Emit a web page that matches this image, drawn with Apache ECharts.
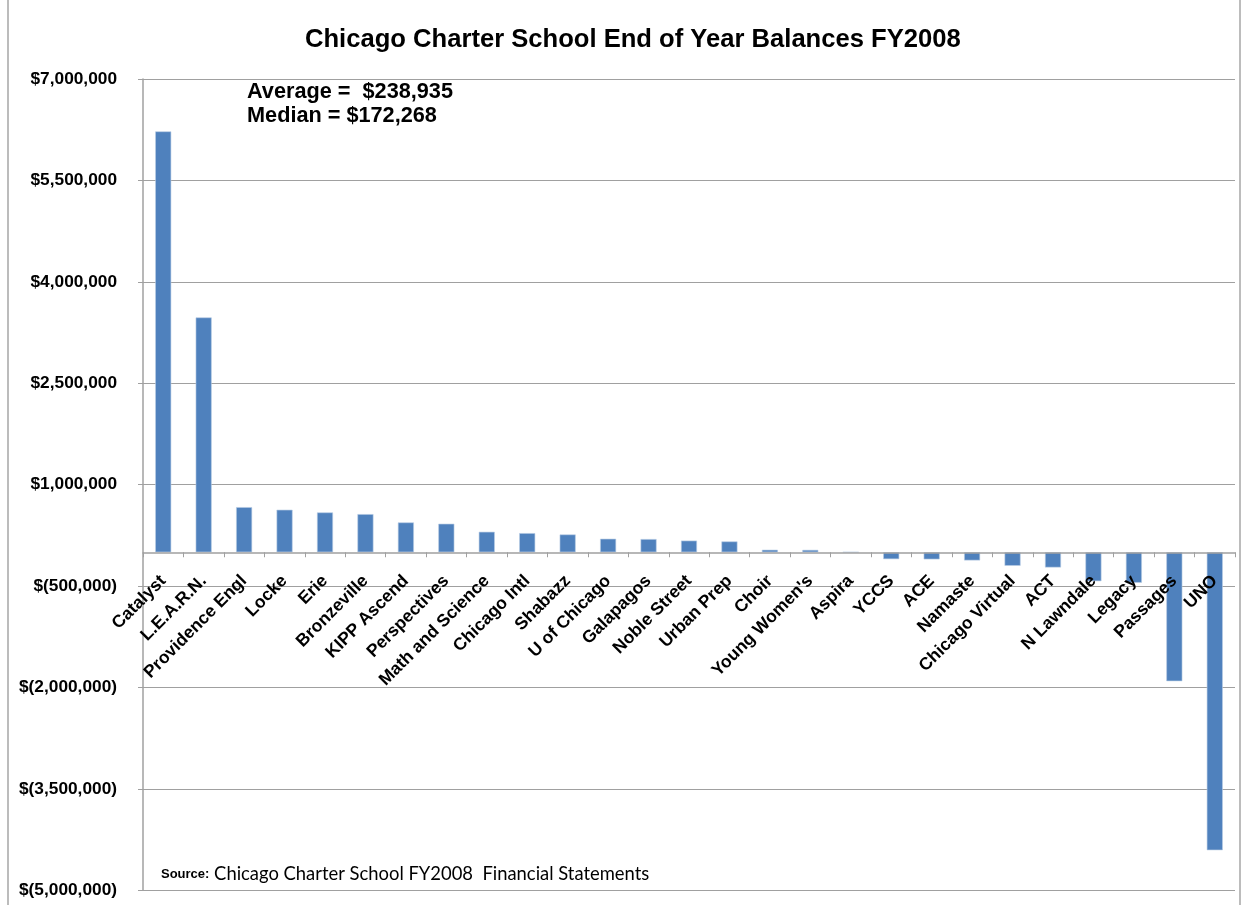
<!DOCTYPE html>
<html>
<head>
<meta charset="utf-8">
<script src="https://cdn.jsdelivr.net/npm/echarts@6/dist/echarts.min.js"></script>
<style>
html,body{margin:0;padding:0;background:#fff;}
#chart{width:1248px;height:905px;}
</style>
</head>
<body>
<div id="chart"></div>
<script>
const titleText = 'Chicago Charter School End of Year Balances FY2008';
const categories = ['Catalyst','L.E.A.R.N.','Providence Engl','Locke','Erie','Bronzeville','KIPP Ascend','Perspectives','Math and Science','Chicago Intl','Shabazz','U of Chicago','Galapagos','Noble Street','Urban Prep','Choir',"Young Women's",'Aspira','YCCS','ACE','Namaste','Chicago Virtual','ACT','N Lawndale','Legacy','Passages','UNO'];
const balances = [6225000, 3473000, 667000, 629000, 589000, 564000, 441000, 422000, 303000, 283000, 263000, 200000, 195000, 172268, 160000, 37000, 35000, 2000, -102000, -105000, -121000, -200000, -225000, -428000, -451000, -1907000, -4407000];
const yMin = -5000000, yMax = 7000000, yStep = 1500000;
const averageLabel = 'Average =  $238,935';
const medianLabel = 'Median = $172,268';
const sourceBold = 'Source:';
const sourceRest = ' Chicago Charter School FY2008  Financial Statements';

function commas(n){ return String(Math.round(n)).replace(/\B(?=(\d{3})+(?!\d))/g, ','); }
function money(v){ return v < 0 ? '$(' + commas(-v) + ')' : '$' + commas(v); }

const W = 1248, H = 905;
const gridTop = 79, gridBottom = 14.7;
const plotH = H - gridTop - gridBottom;
// move the category axis up from the bottom edge to the value 0
const zeroOffset = -plotH * (0 - yMin) / (yMax - yMin);

const chart = echarts.init(document.getElementById('chart'), null, {renderer:'canvas'});
const grey = '#a0a0a0';
chart.setOption({
  animation:false,
  backgroundColor:'#ffffff',
  title:{
    text:titleText, left:300, top:22,
    textStyle:{fontFamily:'Liberation Sans, Arial, sans-serif', fontWeight:'bold', fontSize:25.6, color:'#000'}
  },
  grid:{left:143, right:13, top:gridTop, bottom:gridBottom, containLabel:false, outerBoundsMode:'none'},
  xAxis:{
    type:'category', data:categories, boundaryGap:true, position:'bottom', offset:zeroOffset, z:10,
    axisLine:{onZero:false, lineStyle:{color:grey, width:1.5}},
    axisTick:{show:true, length:5, lineStyle:{color:grey}},
    axisLabel:{rotate:45, interval:0, margin:26, color:'#000', fontFamily:'Liberation Sans, Arial, sans-serif', fontWeight:'bold', fontSize:17.5},
    splitLine:{show:false}
  },
  yAxis:{
    type:'value', min:yMin, max:yMax, interval:yStep,
    axisLine:{show:true, lineStyle:{color:grey, width:1.5}},
    axisTick:{show:true, length:5, lineStyle:{color:grey}},
    axisLabel:{formatter:money, margin:26, color:'#000', fontFamily:'Liberation Sans, Arial, sans-serif', fontWeight:'bold', fontSize:17.3},
    splitLine:{show:true, lineStyle:{color:grey, width:1.2}}
  },
  series:[{
    type:'bar', data:balances, barWidth:16, z:2,
    itemStyle:{color:'#4F81BD', borderColor:'#b8cce4', borderWidth:0.6}
  }],
  graphic:[
    {type:'rect', shape:{x:8, y:-2, width:1232, height:912}, style:{fill:'none', stroke:'#a6a6a6', lineWidth:1.5}, silent:true},
    {type:'text', left:247, top:81, style:{text:averageLabel, font:'bold 21.7px "Liberation Sans", Arial, sans-serif', fill:'#000'}},
    {type:'text', left:247, top:105, style:{text:medianLabel, font:'bold 21.7px "Liberation Sans", Arial, sans-serif', fill:'#000'}},
    {type:'text', left:161, top:865, style:{
      text:'{b|' + sourceBold + '}{r|' + sourceRest + '}',
      rich:{
        b:{font:'bold 13px "Liberation Sans", Arial, sans-serif', fill:'#000'},
        r:{font:'18.4px Lato, "Open Sans", sans-serif', fill:'#000'}
      }
    }}
  ]
});
</script>
</body>
</html>
